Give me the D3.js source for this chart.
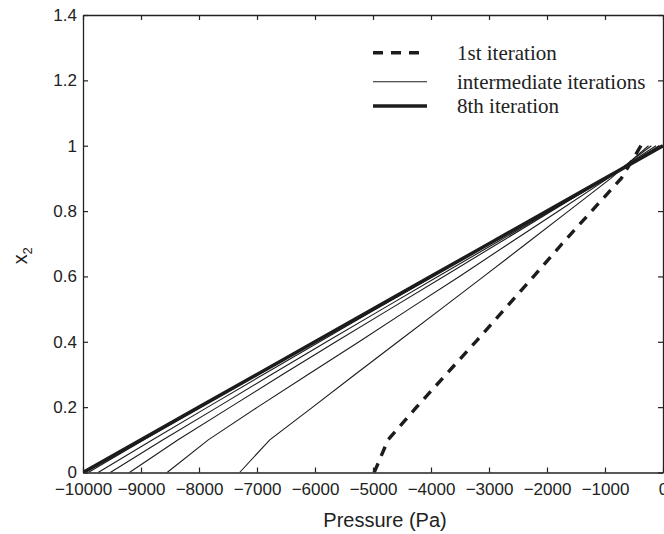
<!DOCTYPE html>
<html>
<head>
<meta charset="utf-8">
<script src="https://cdn.jsdelivr.net/npm/d3@7"></script>
<style>
  html, body { margin: 0; padding: 0; background: #fff; }
  svg { display: block; }
</style>
</head>
<body>
<svg id="chart" width="664" height="534"></svg>
<script>
// ---- data ----
const x2Levels = [0, 0.1, 0.2, 0.3, 0.4, 0.5, 0.6, 0.7, 0.8, 0.9, 1.0];
const iter1 = [-4980, -4740, -4250, -3740, -3230, -2730, -2230, -1740, -1230, -720, -380];
const iter2 = [-7300, -6780, -6040, -5310, -4570, -3830, -3090, -2360, -1630, -900, -250];
const iter3 = [-8550, -7840, -6990, -6120, -5240, -4380, -3510, -2660, -1800, -950, -200];
const iter4 = [-9200, -8360, -7460, -6560, -5640, -4710, -3780, -2850, -1920, -990, -120];
const iter5 = [-9530, -8620, -7680, -6750, -5800, -4840, -3880, -2910, -1940, -980, -70];
const iter6 = [-9740, -8800, -7850, -6890, -5920, -4950, -3970, -2990, -2000, -1000, -30];
const iter7 = [-9910, -8950, -7970, -6980, -5990, -5000, -4000, -3000, -2000, -1000, -10];
const iter8 = [-10000, -9000, -8000, -7000, -6000, -5000, -4000, -3000, -2000, -1000, 0];
const intermediate = [iter2, iter3, iter4, iter5, iter6, iter7];
const xTicks = [-10000, -9000, -8000, -7000, -6000, -5000, -4000, -3000, -2000, -1000, 0];
const yTicks = [0, 0.2, 0.4, 0.6, 0.8, 1, 1.2, 1.4];
const legendLabels = ["1st iteration", "intermediate iterations", "8th iteration"];

// ---- layout ----
const svg = d3.select("#chart");
const L = 83, R = 663, T = 15, B = 472.5;
const x = d3.scaleLinear().domain([-10000, 0]).range([L, R]);
const y = d3.scaleLinear().domain([0, 1.4]).range([B, T]);
const ink = "#1c1c1c";
const fmt = d => (d < 0 ? "\u2212" + Math.abs(d) : String(d));

const line = d3.line()
  .x(d => x(d[0]))
  .y(d => y(d[1]));
const pts = arr => arr.map((p, i) => [p, x2Levels[i]]);

const plot = svg.append("g");
plot.append("defs").append("clipPath").attr("id", "clip")
  .append("rect").attr("x", L).attr("y", T).attr("width", R - L).attr("height", B - T);
const g = plot.append("g").attr("clip-path", "url(#clip)");

intermediate.forEach(s => {
  g.append("path").datum(pts(s)).attr("d", line)
    .attr("fill", "none").attr("stroke", ink).attr("stroke-width", 1.1);
});
g.append("path").datum(pts(iter8)).attr("d", line)
  .attr("fill", "none").attr("stroke", ink).attr("stroke-width", 3.6);
g.append("path").datum(pts(iter1)).attr("d", line)
  .attr("fill", "none").attr("stroke", ink).attr("stroke-width", 3.4)
  .attr("stroke-dasharray", "10,8");

// ---- axes ----
const tickFont = "'Liberation Sans', Arial, Helvetica, sans-serif";
const axB = d3.axisBottom(x).tickValues(xTicks).tickFormat(fmt).tickSizeInner(-5).tickSizeOuter(0).tickPadding(10);
const axT = d3.axisTop(x).tickValues(xTicks).tickFormat("").tickSizeInner(-5).tickSizeOuter(0);
const axL = d3.axisLeft(y).tickValues(yTicks).tickFormat(d3.format("")).tickSizeInner(-5).tickSizeOuter(0).tickPadding(6);
const axR = d3.axisRight(y).tickValues(yTicks).tickFormat("").tickSizeInner(-5).tickSizeOuter(0);

function styleAxis(sel) {
  sel.select(".domain").attr("stroke", "#222").attr("stroke-width", 1.3);
  sel.selectAll(".tick line").attr("stroke", "#222").attr("stroke-width", 1.2);
  sel.selectAll(".tick text").attr("fill", "#222").style("font-family", tickFont).style("font-size", "17px");
}
svg.append("g").attr("transform", `translate(0,${B})`).call(axB).call(styleAxis);
svg.append("g").attr("transform", `translate(0,${T})`).call(axT).call(styleAxis);
svg.append("g").attr("transform", `translate(${L},0)`).call(axL).call(styleAxis);
svg.append("g").attr("transform", `translate(${R},0)`).call(axR).call(styleAxis);

// axis titles
svg.append("text").attr("x", (L + R) / 2 + 12).attr("y", 527)
  .attr("text-anchor", "middle").attr("fill", "#222")
  .style("font-family", tickFont).style("font-size", "20px").text("Pressure (Pa)");
const yt = svg.append("text").attr("transform", `translate(27,${(T + B) / 2 + 12}) rotate(-90)`)
  .attr("text-anchor", "middle").attr("fill", "#222")
  .style("font-family", tickFont).style("font-size", "20px");
yt.append("tspan").text("x");
yt.append("tspan").attr("dy", 5).style("font-size", "13px").text("2");

// ---- legend ----
const legY = [52.7, 81.7, 106];
const lg = svg.append("g");
const legStyles = [
  { w: 3.4, dash: "10,8" },
  { w: 1.1, dash: null },
  { w: 3.6, dash: null }
];
legendLabels.forEach((lab, i) => {
  const l = lg.append("line").attr("x1", 373).attr("x2", 427).attr("y1", legY[i]).attr("y2", legY[i])
    .attr("stroke", ink).attr("stroke-width", legStyles[i].w);
  if (legStyles[i].dash) l.attr("stroke-dasharray", legStyles[i].dash);
  lg.append("text").attr("x", 457).attr("y", legY[i] + 7)
    .attr("fill", "#222")
    .style("font-family", "'Liberation Serif', 'Times New Roman', serif")
    .style("font-size", "21px").text(lab);
});
</script>
</body>
</html>
